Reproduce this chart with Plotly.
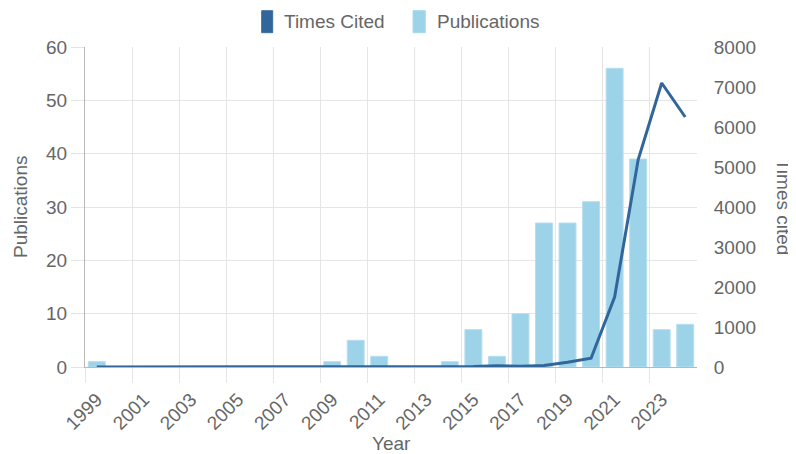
import plotly.graph_objects as go

years = list(range(1999, 2025))
publications = [1, 0, 0, 0, 0, 0, 0, 0, 0, 0, 1, 5, 2, 0, 0, 1, 7, 2, 10, 27, 27, 31, 56, 39, 7, 8]
times_cited = [0, 0, 0, 0, 0, 0, 0, 0, 0, 0, 0, 2, 5, 8, 6, 10, 15, 30, 20, 40, 120, 220, 1750, 5180, 7100, 6250]
label_years = [y for y in years if (y - 1999) % 2 == 0 and y <= 2023]
grid_positions = [y - 0.5 for y in years if (y - 1999) % 2 == 0 and y <= 2023]

BAR = "#9DD3E8"
LINE = "#31669A"
GRID = "#e5e5e5"
AXIS = "#b8b8b8"
TXT = "#666666"
FONT = "Liberation Sans, Arial, sans-serif"
FS = 19

fig = go.Figure()
fig.add_trace(go.Bar(
    x=years, y=publications, name="Publications", width=0.72,
    marker=dict(color=BAR, line=dict(color="#b5def0", width=1)),
    xaxis="x", yaxis="y", showlegend=False,
))
fig.add_trace(go.Scatter(
    x=years, y=times_cited, name="Times Cited", mode="lines",
    line=dict(color=LINE, width=3), xaxis="x", yaxis="y2", showlegend=False,
))
fig.add_trace(go.Scatter(
    x=[1998.5], y=[0], mode="none", xaxis="x2", yaxis="y",
    showlegend=False, hoverinfo="skip",
))

xr = [1998.5, 2024.5]
fig.update_layout(
    width=788, height=446,
    margin=dict(l=77, r=99, t=39, b=87),
    paper_bgcolor="white", plot_bgcolor="white",
    font=dict(family=FONT, size=FS, color=TXT),
    bargap=0.28,
    xaxis=dict(
        range=xr, tickmode="array", tickvals=label_years,
        ticktext=[str(y) for y in label_years], tickangle=-45,
        showgrid=False, zeroline=False, showline=True, linecolor=AXIS, linewidth=1,
        ticks="outside", ticklen=13, tickcolor="rgba(0,0,0,0)",
        tickfont=dict(size=FS, color=TXT),
    ),
    xaxis2=dict(
        range=xr, overlaying="x", side="bottom", tickmode="array",
        tickvals=grid_positions, showticklabels=False,
        showgrid=True, gridcolor=GRID, gridwidth=1, zeroline=False,
        ticks="outside", ticklen=15, tickcolor=GRID, showline=False,
    ),
    yaxis=dict(
        range=[0, 60], dtick=10, showgrid=True, gridcolor=GRID, gridwidth=1,
        zeroline=False, showline=True, linecolor=AXIS, linewidth=1,
        ticks="outside", ticklen=13, tickcolor=GRID,
        tickfont=dict(size=FS, color=TXT),
    ),
    yaxis2=dict(
        range=[0, 8000], dtick=1000, overlaying="y", side="right",
        showgrid=False, zeroline=False, showline=False,
        ticks="outside", ticklen=12, tickcolor="rgba(0,0,0,0)",
        tickfont=dict(size=FS, color=TXT),
    ),
    shapes=[
        dict(type="rect", xref="paper", yref="paper", x0=0.2887, x1=0.3067, y0=1.0447, y1=1.1134,
             fillcolor=LINE, line=dict(color="#3a6f9f", width=1)),
        dict(type="rect", xref="paper", yref="paper", x0=0.536, x1=0.556, y0=1.0447, y1=1.1134,
             fillcolor=BAR, line=dict(color="#a8d8ec", width=1)),
    ],
    annotations=[
        dict(text="Times Cited", xref="paper", yref="paper", x=0.3214, y=1.079,
             xanchor="left", yanchor="middle", showarrow=False, font=dict(size=FS, color=TXT)),
        dict(text="Publications", xref="paper", yref="paper", x=0.5719, y=1.079,
             xanchor="left", yanchor="middle", showarrow=False, font=dict(size=FS, color=TXT)),
        dict(text="Publications", xref="paper", yref="paper", x=-0.1062, y=0.5,
             xanchor="center", yanchor="middle", textangle=-90, showarrow=False,
             font=dict(size=FS, color=TXT)),
        dict(text="Times cited", xref="paper", yref="paper", x=1.1422, y=0.5,
             xanchor="center", yanchor="middle", textangle=90, showarrow=False,
             font=dict(size=FS, color=TXT)),
        dict(text="Year", xref="paper", yref="paper", x=0.5016, y=-0.2375,
             xanchor="center", yanchor="middle", showarrow=False, font=dict(size=FS, color=TXT)),
    ],
)

fig.write_html("out.html")
